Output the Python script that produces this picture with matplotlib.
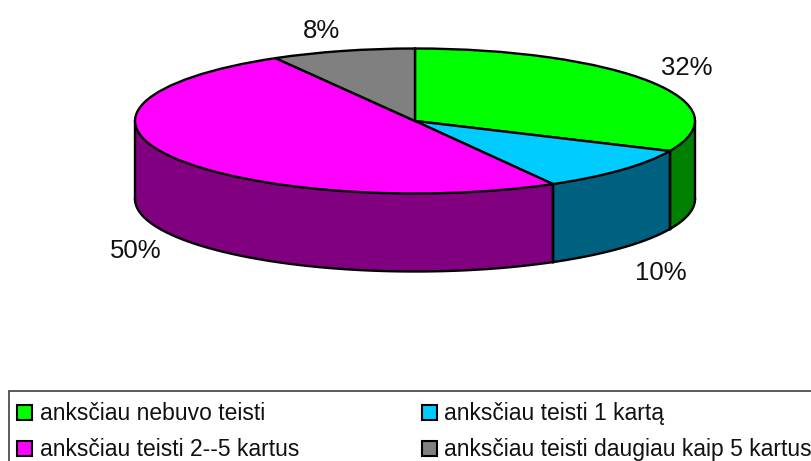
import numpy as np
import matplotlib
matplotlib.use("Agg")
import matplotlib.pyplot as plt
from matplotlib.patches import Rectangle

plt.rcParams['font.family'] = ['Liberation Sans', 'DejaVu Sans']

labels = ["anksčiau nebuvo teisti", "anksčiau teisti 1 kartą",
          "anksčiau teisti 2--5 kartus", "anksčiau teisti daugiau kaip 5 kartus"]
values = [31.8, 10.0, 49.9, 8.3]
pct_labels = ["32%", "10%", "50%", "8%"]
top_colors = ["#00ff00", "#00ccff", "#ff00ff", "#808080"]
side_colors = ["#008000", "#006080", "#800080", "#404040"]

W, H = 812, 461
CX, CY, RX, RY, DEPTH = 415, 121, 280, 72.5, 78

fig = plt.figure(figsize=(W / 100, H / 100), dpi=100, facecolor="white")

# axes sized so one data unit is the ellipse radius, pie stays squashed
ax = fig.add_axes([0, 0, 1, 1])
ax.pie(values, colors=top_colors, startangle=90, counterclock=False, radius=1,
       wedgeprops=dict(edgecolor="black", linewidth=1.7, zorder=3))
ax.set_aspect("auto")
ax.set_xlim(-CX / RX, (W - CX) / RX)
ax.set_ylim(-(H - CY) / RY, CY / RY)
ax.axis("off")

# rim of the pie: only the front half (below the centre line) is visible
depth = DEPTH / RY
start = 90.0
for val, col in zip(values, side_colors):
    end = start - val * 3.6
    a0, a1 = max(end, -180), min(start, 0)
    if a1 > a0:
        t = np.radians(np.linspace(a0, a1, 120))
        x = np.cos(t)
        ax.fill_between(x, np.sin(t), np.sin(t) - depth, facecolor=col,
                        edgecolor="none", zorder=1)
        ax.plot(x, np.sin(t) - depth, color="black", lw=1.7, zorder=2)
        for b in (a0, a1):
            ax.plot([np.cos(np.radians(b))] * 2,
                    [np.sin(np.radians(b)), np.sin(np.radians(b)) - depth],
                    color="black", lw=1.7, zorder=2)
    start = end

pct_pos = [(687, 67.5), (661, 272.5), (136, 251.5), (322, 31)]
for txt, (px, py) in zip(pct_labels, pct_pos):
    fig.text(px / W, 1 - py / H, txt, fontsize=18.5, color="#111111",
             ha="center", va="center")

# legend box runs off the right and bottom of the picture
fig.add_artist(Rectangle((9.5 / W, -0.02), 1.0, 1 - 391 / H + 0.02,
                         transform=fig.transFigure, facecolor="white",
                         edgecolor="#404040", linewidth=1.2))
swatch_x = [17, 422, 17, 422]
text_x = [40, 444, 40, 444]
row_y = [412, 412, 448, 448]
for lab, col, sx, tx, ry in zip(labels, top_colors, swatch_x, text_x, row_y):
    fig.add_artist(Rectangle((sx / W, 1 - (ry + 7.5) / H), 15.5 / W, 15 / H,
                             transform=fig.transFigure, facecolor=col,
                             edgecolor="black", linewidth=1.5))
    fig.text(tx / W, 1 - (ry + 1) / H, lab, fontsize=16.5, color="#111111",
             ha="left", va="center")

fig.savefig("out.png", dpi=100)
